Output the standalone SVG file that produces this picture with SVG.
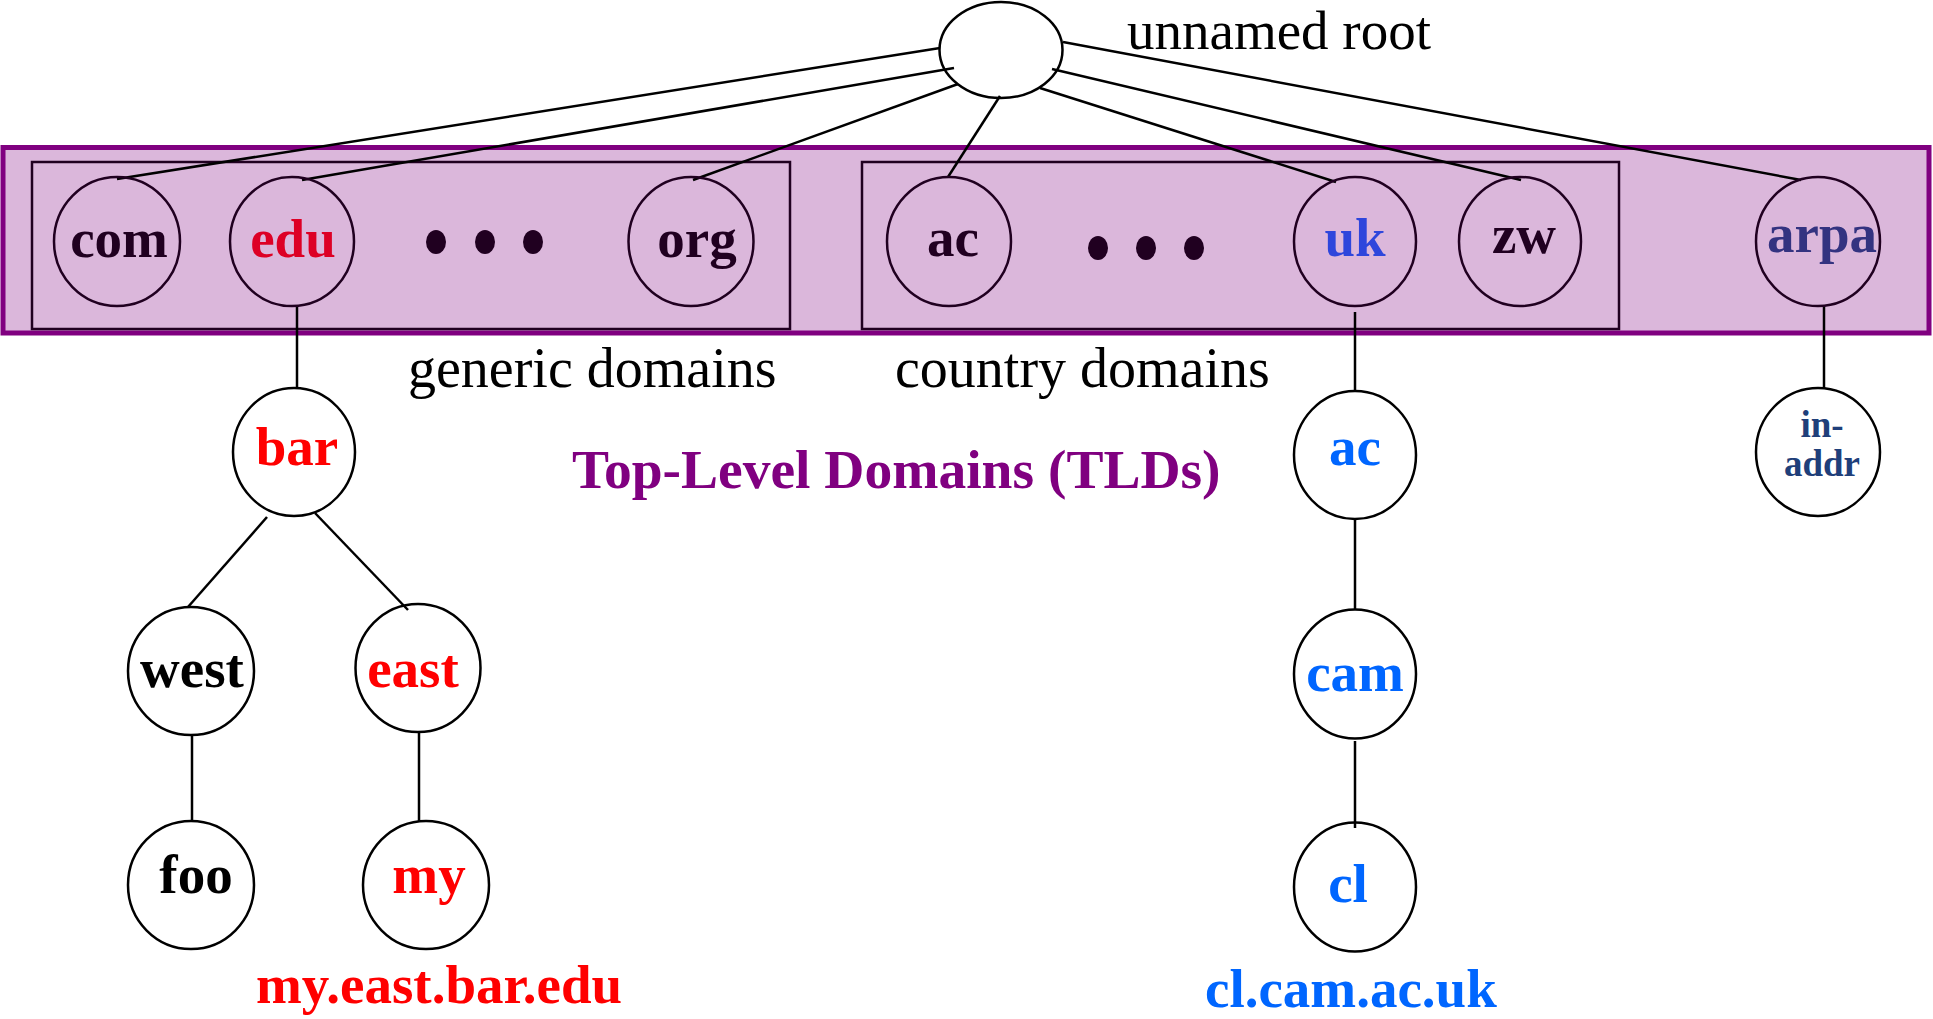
<svg xmlns="http://www.w3.org/2000/svg" width="1933" height="1019" viewBox="0 0 1933 1019">
<style>
.n{fill:none;stroke:#000;stroke-width:2.5}
.t{fill:none;stroke:#200020;stroke-width:2.5}
.l{font-family:"Liberation Serif","Times New Roman",serif;font-weight:bold;font-size:55px;text-anchor:middle}
.r{font-family:"Liberation Serif","Times New Roman",serif;font-size:56px}
.c line{stroke:#000;stroke-width:2.5}
</style>
<rect width="1933" height="1019" fill="#fff"/>
<g id="tld-box">
<rect x="3" y="147.5" width="1926" height="185.5" fill="#dbb7db" stroke="#800080" stroke-width="5"/>
<rect x="32" y="162" width="758" height="167" fill="none" stroke="#200020" stroke-width="2.5"/>
<rect x="862" y="162" width="757" height="167" fill="none" stroke="#200020" stroke-width="2.5"/>
</g>
<g id="connectors" class="c">
<line x1="940" y1="48" x2="117" y2="179"/>
<line x1="954" y1="68" x2="302" y2="180"/>
<line x1="958" y1="84" x2="693" y2="180"/>
<line x1="1000" y1="96" x2="948" y2="177"/>
<line x1="1040" y1="88" x2="1336" y2="182"/>
<line x1="1052" y1="69" x2="1521" y2="180"/>
<line x1="1063" y1="42" x2="1801" y2="180"/>
<line x1="297" y1="306" x2="297" y2="389"/>
<line x1="267" y1="517" x2="188" y2="607"/>
<line x1="315" y1="513" x2="408" y2="610"/>
<line x1="192" y1="735" x2="192" y2="821"/>
<line x1="419" y1="732" x2="419" y2="821"/>
<line x1="1355" y1="312" x2="1355" y2="391"/>
<line x1="1824" y1="306" x2="1824" y2="389"/>
<line x1="1355" y1="518" x2="1355" y2="610"/>
<line x1="1355" y1="741" x2="1355" y2="828"/>
</g>
<g id="root"><ellipse class="n" cx="1001" cy="50" rx="61.5" ry="48" fill="#fff"/></g>
<g id="root-label"><text class="r" x="1127" y="49" style="font-size:55px">unnamed root</text></g>
<g id="com"><ellipse class="t" cx="117" cy="241.5" rx="63" ry="64.5"/><text class="l" x="119" y="257" fill="#200020">com</text></g>
<g id="edu"><ellipse class="t" cx="292" cy="241.5" rx="62" ry="64.5"/><text class="l" x="293" y="257" fill="#dd0025">edu</text></g>
<g id="dots-generic" fill="#200020"><ellipse cx="436" cy="242" rx="10" ry="12"/><ellipse cx="485" cy="242" rx="10" ry="12"/><ellipse cx="533" cy="242" rx="10" ry="12"/></g>
<g id="org"><ellipse class="t" cx="691" cy="241.5" rx="62.5" ry="64.5"/><text class="l" x="697" y="257" fill="#200020">org</text></g>
<g id="ac"><ellipse class="t" cx="949" cy="241.5" rx="62" ry="64.5"/><text class="l" x="953" y="256" fill="#200020">ac</text></g>
<g id="dots-country" fill="#200020"><ellipse cx="1098" cy="248" rx="10" ry="12"/><ellipse cx="1146" cy="248" rx="10" ry="12"/><ellipse cx="1194" cy="248" rx="10" ry="12"/></g>
<g id="uk"><ellipse class="t" cx="1355" cy="241.5" rx="61" ry="64.5"/><text class="l" x="1355" y="256" fill="#2e46dc">uk</text></g>
<g id="zw"><ellipse class="t" cx="1520" cy="241.5" rx="61" ry="64.5"/><text class="l" x="1524" y="253" fill="#200020">zw</text></g>
<g id="arpa"><ellipse class="t" cx="1818" cy="241.5" rx="62" ry="64.5"/><text class="l" x="1822" y="252" fill="#333380">arpa</text></g>
<g id="generic-label"><text class="r" x="408" y="387">generic domains</text></g>
<g id="country-label"><text class="r" x="895" y="387">country domains</text></g>
<g id="tld-label"><text class="l" x="572" y="488" fill="#800080" style="text-anchor:start;font-size:55.5px">Top-Level Domains (TLDs)</text></g>
<g id="bar"><ellipse class="n" cx="294" cy="452" rx="61" ry="64"/><text class="l" x="297" y="465" fill="#ff0000">bar</text></g>
<g id="west"><ellipse class="n" cx="191" cy="671" rx="63" ry="64"/><text class="l" x="192" y="687" fill="#000">west</text></g>
<g id="east"><ellipse class="n" cx="418" cy="668" rx="62.5" ry="64"/><text class="l" x="413" y="687" fill="#ff0000">east</text></g>
<g id="foo"><ellipse class="n" cx="191" cy="885" rx="63" ry="64"/><text class="l" x="196" y="893" fill="#000">foo</text></g>
<g id="my"><ellipse class="n" cx="426" cy="885" rx="63" ry="64"/><text class="l" x="429" y="893" fill="#ff0000">my</text></g>
<g id="my-fqdn"><text class="l" x="256" y="1003" fill="#ff0000" style="text-anchor:start">my.east.bar.edu</text></g>
<g id="uk-ac"><ellipse class="n" cx="1355" cy="455" rx="61" ry="64"/><text class="l" x="1355" y="465" fill="#0066ff">ac</text></g>
<g id="cam"><ellipse class="n" cx="1355" cy="674" rx="61" ry="64.5"/><text class="l" x="1355" y="691" fill="#0066ff">cam</text></g>
<g id="cl"><ellipse class="n" cx="1355" cy="887" rx="61" ry="64.5"/><text class="l" x="1348" y="902" fill="#0066ff">cl</text></g>
<g id="cl-fqdn"><text class="l" x="1205" y="1007" fill="#0066ff" style="text-anchor:start">cl.cam.ac.uk</text></g>
<g id="in-addr"><ellipse class="n" cx="1818" cy="452" rx="62" ry="64"/><text class="l" x="1822" y="437" fill="#1f3f7a" style="font-size:37px">in-</text><text class="l" x="1822" y="476" fill="#1f3f7a" style="font-size:37px">addr</text></g>
</svg>
